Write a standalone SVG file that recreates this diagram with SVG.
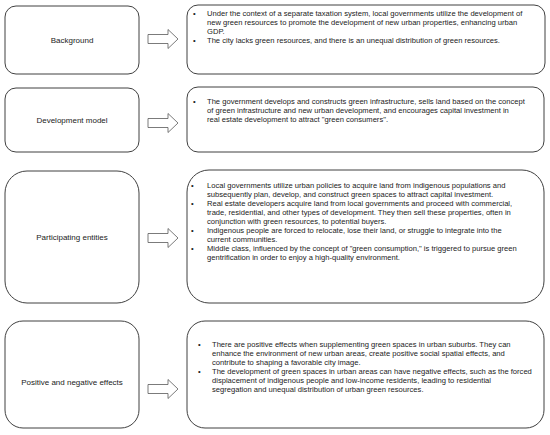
<svg xmlns="http://www.w3.org/2000/svg" width="550" height="435" viewBox="0 0 550 435">
<defs>
<style>
.box{fill:#fff;stroke:#404040;stroke-width:1}
.arr{fill:#fff;stroke:#595959;stroke-width:0.8}
.lbl{font-family:"Liberation Sans",Arial,sans-serif;font-size:8px;fill:#222;text-anchor:middle}
.t{font-family:"Liberation Sans",Arial,sans-serif;font-size:7.6px;fill:#222}
</style>
<path id="arrow" d="M0,-4.5 H20 V-9.5 L30,0 L20,9.5 V4.5 H0 Z"/>
</defs>
<rect width="550" height="435" fill="#fff"/>
<g id="background">
<rect class="box" x="5" y="6" width="134" height="68" rx="11"/>
<text class="lbl" x="72" y="43">Background</text>
</g>
<g id="background-detail">
<rect class="box" x="187" y="5" width="358" height="69" rx="11"/>
<g class="t">
<text x="193" y="16">•</text><text x="207" y="16">Under the context of a separate taxation system, local governments utilize the development of</text>
<text x="207" y="25">new green resources to promote the development of new urban properties, enhancing urban</text>
<text x="207" y="34">GDP.</text>
<text x="193" y="43">•</text><text x="207" y="43">The city lacks green resources, and there is an unequal distribution of green resources.</text>
</g>
</g>
<g id="development-model">
<rect class="box" x="5" y="88" width="134" height="64" rx="11"/>
<text class="lbl" x="72" y="123">Development model</text>
</g>
<g id="development-model-detail">
<rect class="box" x="187" y="87" width="357" height="65" rx="11"/>
<g class="t">
<text x="193" y="104">•</text><text x="207" y="104">The government develops and constructs green infrastructure, sells land based on the concept</text>
<text x="207" y="113">of green infrastructure and new urban development, and encourages capital investment in</text>
<text x="207" y="122">real estate development to attract "green consumers".</text>
</g>
</g>
<g id="participating-entities">
<rect class="box" x="5" y="171" width="134" height="132" rx="22"/>
<text class="lbl" x="72" y="240">Participating entities</text>
</g>
<g id="participating-entities-detail">
<rect class="box" x="187" y="170" width="357" height="133" rx="22"/>
<g class="t">
<text x="191" y="188">•</text><text x="207" y="188">Local governments utilize urban policies to acquire land from indigenous populations and</text>
<text x="207" y="197">subsequently plan, develop, and construct green spaces to attract capital investment.</text>
<text x="191" y="206">•</text><text x="207" y="206">Real estate developers acquire land from local governments and proceed with commercial,</text>
<text x="207" y="215">trade, residential, and other types of development. They then sell these properties, often in</text>
<text x="207" y="224">conjunction with green resources, to potential buyers.</text>
<text x="191" y="233">•</text><text x="207" y="233">Indigenous people are forced to relocate, lose their land, or struggle to integrate into the</text>
<text x="207" y="242">current communities.</text>
<text x="191" y="251">•</text><text x="207" y="251">Middle class, influenced by the concept of "green consumption," is triggered to pursue green</text>
<text x="207" y="260">gentrification in order to enjoy a high-quality environment.</text>
</g>
</g>
<g id="effects">
<rect class="box" x="5" y="321" width="134" height="107" rx="18"/>
<text class="lbl" x="72" y="385">Positive and negative effects</text>
</g>
<g id="effects-detail">
<rect class="box" x="187" y="321" width="357" height="107" rx="18"/>
<g class="t">
<text x="198" y="347">•</text><text x="212" y="347">There are positive effects when supplementing green spaces in urban suburbs. They can</text>
<text x="212" y="356">enhance the environment of new urban areas, create positive social spatial effects, and</text>
<text x="212" y="365">contribute to shaping a favorable city image.</text>
<text x="198" y="374">•</text><text x="212" y="374">The development of green spaces in urban areas can have negative effects, such as the forced</text>
<text x="212" y="383">displacement of indigenous people and low-income residents, leading to residential</text>
<text x="212" y="392">segregation and unequal distribution of urban green resources.</text>
</g>
</g>
<g id="connectors">
<use href="#arrow" class="arr" x="148" y="39"/>
<use href="#arrow" class="arr" x="148" y="123"/>
<use href="#arrow" class="arr" x="148" y="238"/>
<use href="#arrow" class="arr" x="148" y="389"/>
</g>
</svg>
